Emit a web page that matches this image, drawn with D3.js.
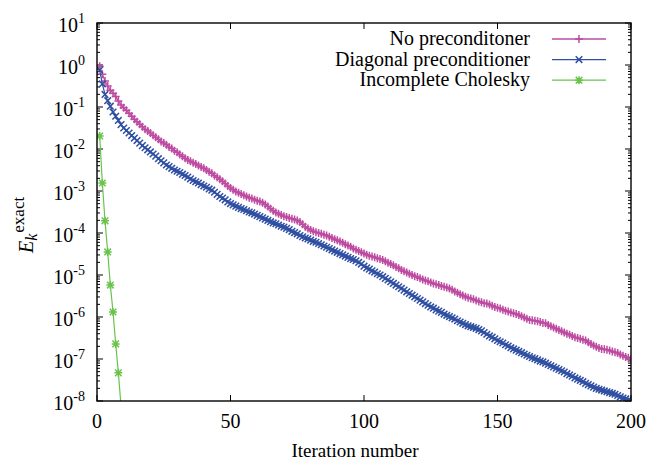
<!DOCTYPE html>
<html>
<head>
<meta charset="utf-8">
<script src="https://cdn.jsdelivr.net/npm/d3@7"></script>
<style>
  body {margin:0; background:#fff;}
  svg text {font-family:"Liberation Serif","Times New Roman",serif; fill:#000;}
</style>
</head>
<body>
<svg width="648" height="461"></svg>
<script>
// log10 of the error, one value per iteration (1..200)
var noPrecExp = [
  -0.03,-0.22,-0.38,-0.50,-0.60,-0.67,-0.75,-0.86,-0.95,-1.02,
  -1.08,-1.15,-1.22,-1.29,-1.35,-1.41,-1.47,-1.53,-1.57,-1.62,
  -1.67,-1.72,-1.77,-1.82,-1.86,-1.90,-1.95,-1.99,-2.04,-2.08,
  -2.13,-2.17,-2.22,-2.26,-2.29,-2.33,-2.36,-2.39,-2.43,-2.46,
  -2.50,-2.54,-2.58,-2.63,-2.67,-2.72,-2.77,-2.82,-2.88,-2.93,
  -2.97,-3.01,-3.04,-3.07,-3.10,-3.13,-3.16,-3.18,-3.21,-3.23,
  -3.25,-3.28,-3.32,-3.37,-3.42,-3.47,-3.51,-3.54,-3.57,-3.60,
  -3.62,-3.64,-3.66,-3.68,-3.70,-3.74,-3.79,-3.85,-3.89,-3.93,
  -3.96,-3.98,-4.00,-4.02,-4.04,-4.06,-4.09,-4.12,-4.15,-4.17,
  -4.20,-4.23,-4.27,-4.30,-4.33,-4.37,-4.40,-4.43,-4.46,-4.49,
  -4.52,-4.54,-4.56,-4.58,-4.60,-4.62,-4.64,-4.67,-4.71,-4.74,
  -4.77,-4.81,-4.84,-4.88,-4.91,-4.94,-4.97,-5.00,-5.03,-5.05,
  -5.08,-5.11,-5.13,-5.15,-5.18,-5.20,-5.22,-5.24,-5.26,-5.28,
  -5.30,-5.32,-5.35,-5.39,-5.42,-5.46,-5.49,-5.52,-5.54,-5.56,
  -5.58,-5.61,-5.63,-5.65,-5.67,-5.68,-5.70,-5.73,-5.76,-5.78,
  -5.80,-5.83,-5.85,-5.87,-5.89,-5.91,-5.93,-5.95,-5.98,-6.01,
  -6.04,-6.07,-6.08,-6.09,-6.10,-6.12,-6.14,-6.15,-6.19,-6.22,
  -6.25,-6.28,-6.31,-6.34,-6.37,-6.40,-6.42,-6.45,-6.48,-6.50,
  -6.52,-6.54,-6.56,-6.60,-6.64,-6.68,-6.71,-6.74,-6.76,-6.77,
  -6.78,-6.80,-6.82,-6.84,-6.86,-6.89,-6.92,-6.95,-6.97,-7.00
];
var diagPrecExp = [
  -0.12,-0.45,-0.70,-0.85,-0.98,-1.12,-1.22,-1.32,-1.42,-1.50,
  -1.56,-1.62,-1.68,-1.74,-1.80,-1.86,-1.92,-1.97,-2.02,-2.07,
  -2.12,-2.17,-2.23,-2.28,-2.33,-2.38,-2.42,-2.46,-2.50,-2.53,
  -2.56,-2.60,-2.63,-2.67,-2.71,-2.75,-2.78,-2.81,-2.85,-2.88,
  -2.91,-2.95,-2.98,-3.03,-3.08,-3.13,-3.17,-3.21,-3.26,-3.30,
  -3.33,-3.36,-3.39,-3.42,-3.44,-3.47,-3.50,-3.52,-3.55,-3.58,
  -3.61,-3.64,-3.67,-3.70,-3.73,-3.76,-3.78,-3.81,-3.84,-3.86,
  -3.89,-3.92,-3.96,-3.99,-4.02,-4.06,-4.09,-4.12,-4.14,-4.17,
  -4.20,-4.22,-4.25,-4.28,-4.31,-4.34,-4.37,-4.40,-4.43,-4.46,
  -4.49,-4.52,-4.55,-4.58,-4.61,-4.63,-4.66,-4.70,-4.74,-4.79,
  -4.83,-4.86,-4.90,-4.93,-4.97,-5.00,-5.04,-5.08,-5.12,-5.16,
  -5.20,-5.24,-5.28,-5.32,-5.36,-5.40,-5.44,-5.48,-5.52,-5.56,
  -5.60,-5.64,-5.68,-5.72,-5.76,-5.79,-5.83,-5.86,-5.89,-5.93,
  -5.96,-5.99,-6.02,-6.05,-6.09,-6.12,-6.15,-6.18,-6.21,-6.23,
  -6.25,-6.27,-6.30,-6.33,-6.37,-6.41,-6.45,-6.48,-6.52,-6.56,
  -6.59,-6.62,-6.66,-6.69,-6.73,-6.76,-6.79,-6.82,-6.85,-6.88,
  -6.91,-6.94,-6.97,-6.99,-7.02,-7.05,-7.07,-7.10,-7.13,-7.16,
  -7.19,-7.22,-7.25,-7.28,-7.31,-7.35,-7.38,-7.41,-7.45,-7.48,
  -7.51,-7.54,-7.58,-7.61,-7.64,-7.67,-7.70,-7.72,-7.74,-7.76,
  -7.78,-7.80,-7.82,-7.84,-7.87,-7.90,-7.93,-7.95,-7.98,-8.00
];
var cholExp = [-1.69,-2.81,-3.71,-4.45,-5.24,-5.88,-6.64,-7.33,-8.12];

var seriesNames = ["No preconditoner", "Diagonal preconditioner", "Incomplete Cholesky"];
var seriesColors = ["#bd4ba1", "#2f4fa2", "#6ac44c"];
var seriesMarks = ["plus", "cross", "star"];
var xTicks = [0, 50, 100, 150, 200];
var yTickExps = [1, 0, -1, -2, -3, -4, -5, -6, -7, -8];

var svg = d3.select("svg"),
    pL = 97, pR = 631, pT = 23, pB = 401;

var x = d3.scaleLinear().domain([0, 200]).range([pL, pR]);
var y = d3.scaleLog().domain([1e-8, 10]).range([pB, pT]);

function toPoints(exps) {
  return exps.map(function(e, i) { return {it: i + 1, v: Math.pow(10, e)}; });
}
var series = [toPoints(noPrecExp), toPoints(diagPrecExp), toPoints(cholExp)];

svg.append("defs").append("clipPath").attr("id", "plotclip")
  .append("rect").attr("x", pL).attr("y", pT)
  .attr("width", pR - pL).attr("height", pB - pT);

var markPath = {
  plus: "M-4,0H4M0,-4V4",
  cross: "M-3.3,-3.3L3.3,3.3M-3.3,3.3L3.3,-3.3",
  star: "M-4,0H4M0,-4V4M-3.3,-3.3L3.3,3.3M-3.3,3.3L3.3,-3.3"
};

// ticks
var tickG = svg.append("g").attr("stroke", "#000").attr("stroke-width", 1);
var minor = [];
yTickExps.forEach(function(k) {
  if (k < 1) for (var m = 2; m < 10; m++) minor.push(m * Math.pow(10, k));
});
minor.forEach(function(v) {
  tickG.append("line").attr("x1", pL).attr("x2", pL + 3).attr("y1", y(v)).attr("y2", y(v));
  tickG.append("line").attr("x1", pR).attr("x2", pR - 3).attr("y1", y(v)).attr("y2", y(v));
});
yTickExps.forEach(function(k) {
  var yy = y(Math.pow(10, k));
  tickG.append("line").attr("x1", pL).attr("x2", pL + 6).attr("y1", yy).attr("y2", yy);
  tickG.append("line").attr("x1", pR).attr("x2", pR - 6).attr("y1", yy).attr("y2", yy);
  var t = svg.append("text").attr("x", 85).attr("y", yy + 8.5)
    .attr("text-anchor", "end").style("font-size", "20px");
  t.append("tspan").text("10");
  t.append("tspan").attr("dy", -8.5).style("font-size", "14px").text(String(k));
});
xTicks.forEach(function(d) {
  tickG.append("line").attr("x1", x(d)).attr("x2", x(d)).attr("y1", pB).attr("y2", pB - 6);
  tickG.append("line").attr("x1", x(d)).attr("x2", x(d)).attr("y1", pT).attr("y2", pT + 6);
  svg.append("text").attr("x", x(d)).attr("y", 428).attr("text-anchor", "middle")
    .style("font-size", "20px").text(d);
});

// series
var plot = svg.append("g").attr("clip-path", "url(#plotclip)");
series.forEach(function(data, i) {
  plot.append("path").datum(data)
    .attr("fill", "none").attr("stroke", seriesColors[i]).attr("stroke-width", 1.2)
    .attr("d", d3.line().x(function(d) { return x(d.it); }).y(function(d) { return y(d.v); }));
  plot.append("g").selectAll("path")
    .data(data.filter(function(d) { return d.v >= 1e-8; }))
    .enter().append("path")
      .attr("transform", function(d) { return "translate(" + x(d.it) + "," + y(d.v) + ")"; })
      .attr("d", markPath[seriesMarks[i]])
      .attr("fill", "none").attr("stroke", seriesColors[i]).attr("stroke-width", 1.5);
});

// border
svg.append("rect").attr("x", pL).attr("y", pT)
  .attr("width", pR - pL).attr("height", pB - pT)
  .attr("fill", "none").attr("stroke", "#000").attr("stroke-width", 1.4);

// legend
seriesNames.forEach(function(name, i) {
  var ly = 39 + i * 20.6;
  svg.append("text").attr("x", 530).attr("y", ly + 6).attr("text-anchor", "end")
    .style("font-size", "20px").text(name);
  svg.append("line").attr("x1", 552).attr("x2", 606).attr("y1", ly).attr("y2", ly)
    .attr("stroke", seriesColors[i]).attr("stroke-width", 1.3);
  svg.append("path").attr("transform", "translate(579," + ly + ")")
    .attr("d", markPath[seriesMarks[i]]).attr("fill", "none")
    .attr("stroke", seriesColors[i]).attr("stroke-width", 1.5);
});

// axis labels
svg.append("text").attr("x", 355).attr("y", 457).attr("text-anchor", "middle")
  .style("font-size", "19px").text("Iteration number");

var yl = svg.append("text").attr("transform", "translate(33,253) rotate(-90)")
  .style("font-size", "20px");
yl.append("tspan").style("font-style", "italic").text("E");
yl.append("tspan").attr("dy", 4).style("font-style", "italic").style("font-size", "16px").text("k");
yl.append("tspan").attr("dy", -13).attr("dx", 1).style("font-size", "17px").text("exact");
</script>
</body>
</html>
